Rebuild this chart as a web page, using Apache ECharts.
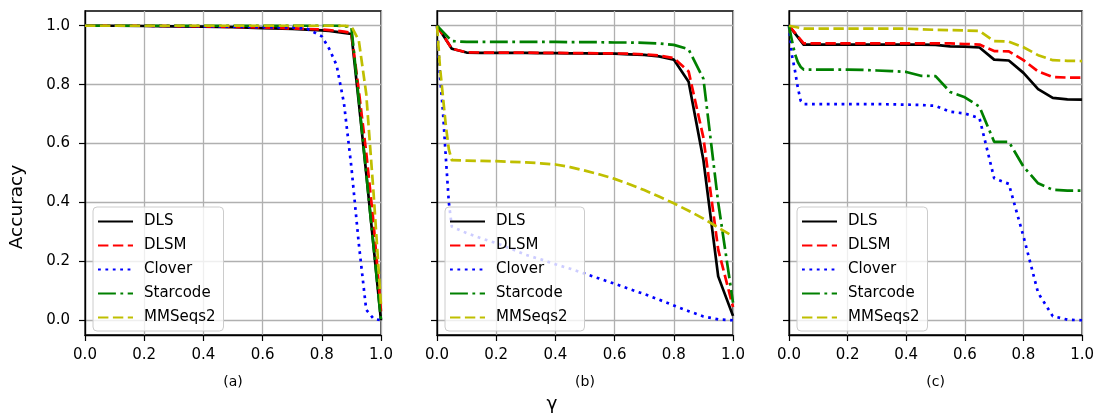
<!DOCTYPE html>
<html>
<head>
<meta charset="utf-8">
<script src="https://cdn.jsdelivr.net/npm/echarts@6/dist/echarts.min.js"></script>
<style>
  html, body { margin: 0; padding: 0; background: #fff; }
  #chart { width: 1097px; height: 415px; }
</style>
</head>
<body>
<div id="chart"></div>
<script>
// ---- data ----
const seriesNames = ['DLS', 'DLSM', 'Clover', 'Starcode', 'MMSeqs2'];
const panelLabels = ['(a)', '(b)', '(c)'];
const yTicks = [0, 0.2, 0.4, 0.6, 0.8, 1.0];

// panel (a)
const gammaA = [0, 0.1, 0.2, 0.3, 0.4, 0.5, 0.6, 0.7, 0.75, 0.8, 0.825, 0.85, 0.875, 0.9, 0.925, 0.95, 0.975, 1.0];
const dlsA      = [1.0, 1.0, 0.999, 0.998, 0.997, 0.995, 0.992, 0.989, 0.987, 0.984, 0.982, 0.979, 0.976, 0.972, 0.74, 0.5, 0.25, 0.0];
const dlsmA     = [1.0, 1.0, 1.0, 0.999, 0.998, 0.996, 0.994, 0.991, 0.989, 0.987, 0.985, 0.983, 0.98, 0.976, 0.78, 0.57, 0.33, 0.03];
const cloverA   = [1.0, 1.0, 1.0, 0.999, 0.998, 0.997, 0.995, 0.994, 0.99, 0.964, 0.922, 0.866, 0.736, 0.52, 0.26, 0.036, 0.005, 0.0];
const starcodeA = [1.0, 1.0, 1.0, 1.0, 1.0, 1.0, 1.0, 1.0, 1.0, 1.0, 1.0, 1.0, 0.999, 0.995, 0.75, 0.5, 0.25, 0.0];
const mmseqsA   = [1.0, 1.0, 1.0, 1.0, 1.0, 1.0, 1.0, 1.0, 1.0, 1.0, 1.0, 1.0, 1.0, 0.998, 0.95, 0.77, 0.43, 0.05];

// panel (b)
const gammaB = [0, 0.05, 0.1, 0.15, 0.2, 0.25, 0.3, 0.35, 0.4, 0.45, 0.5, 0.55, 0.6, 0.65, 0.7, 0.75, 0.8, 0.85, 0.9, 0.95, 1.0];
const gammaBFine = [0, 0.01, 0.02, 0.03, 0.04, 0.05, 0.1, 0.15, 0.2, 0.25, 0.3, 0.35, 0.4, 0.45, 0.5, 0.55, 0.6, 0.65, 0.7, 0.75, 0.8, 0.85, 0.9, 0.95, 1.0];
const dlsB      = [1.0, 0.922, 0.909, 0.908, 0.908, 0.908, 0.908, 0.907, 0.907, 0.906, 0.906, 0.905, 0.905, 0.903, 0.901, 0.896, 0.885, 0.81, 0.544, 0.149, 0.015];
const dlsmB     = [1.0, 0.922, 0.91, 0.909, 0.909, 0.909, 0.909, 0.908, 0.908, 0.907, 0.907, 0.906, 0.906, 0.905, 0.903, 0.899, 0.89, 0.845, 0.62, 0.24, 0.045];
const starcodeB = [1.0, 0.948, 0.945, 0.945, 0.945, 0.945, 0.945, 0.945, 0.945, 0.944, 0.944, 0.944, 0.943, 0.943, 0.942, 0.94, 0.935, 0.92, 0.82, 0.4, 0.06];
const cloverB   = [1.0, 0.83, 0.71, 0.55, 0.40, 0.318, 0.296, 0.278, 0.262, 0.243, 0.222, 0.207, 0.19, 0.175, 0.158, 0.141, 0.124, 0.106, 0.089, 0.07, 0.05, 0.031, 0.013, 0.003, 0.0];
const mmseqsB   = [1.0, 0.86, 0.76, 0.66, 0.58, 0.544, 0.542, 0.541, 0.54, 0.538, 0.536, 0.533, 0.529, 0.52, 0.508, 0.495, 0.48, 0.462, 0.442, 0.42, 0.397, 0.372, 0.345, 0.315, 0.285];

// panel (c)
const gammaC = [0, 0.05, 0.1, 0.15, 0.2, 0.25, 0.3, 0.35, 0.4, 0.45, 0.5, 0.55, 0.6, 0.65, 0.7, 0.75, 0.8, 0.85, 0.9, 0.95, 1.0];
const gammaCFine = [0, 0.01, 0.02, 0.03, 0.04, 0.05, 0.1, 0.15, 0.2, 0.25, 0.3, 0.35, 0.4, 0.45, 0.5, 0.55, 0.6, 0.65, 0.7, 0.75, 0.8, 0.85, 0.9, 0.95, 1.0];
const dlsC      = [1.0, 0.936, 0.936, 0.936, 0.936, 0.936, 0.936, 0.936, 0.936, 0.936, 0.935, 0.93, 0.929, 0.926, 0.885, 0.882, 0.84, 0.785, 0.755, 0.75, 0.749];
const dlsmC     = [1.0, 0.94, 0.94, 0.94, 0.94, 0.94, 0.94, 0.94, 0.94, 0.94, 0.94, 0.94, 0.938, 0.936, 0.914, 0.913, 0.883, 0.845, 0.826, 0.824, 0.824];
const mmseqsC   = [1.0, 0.99, 0.99, 0.99, 0.99, 0.99, 0.99, 0.99, 0.99, 0.988, 0.986, 0.985, 0.984, 0.982, 0.948, 0.946, 0.927, 0.9, 0.883, 0.881, 0.88];
const starcodeC = [1.0, 0.95, 0.905, 0.877, 0.86, 0.851, 0.851, 0.851, 0.851, 0.85, 0.848, 0.846, 0.843, 0.83, 0.829, 0.775, 0.757, 0.725, 0.606, 0.606, 0.522, 0.465, 0.443, 0.44, 0.44];
const cloverC   = [1.0, 0.90, 0.85, 0.79, 0.745, 0.734, 0.734, 0.734, 0.734, 0.734, 0.734, 0.733, 0.732, 0.731, 0.728, 0.708, 0.702, 0.686, 0.482, 0.463, 0.285, 0.093, 0.014, 0.002, 0.0];

// ---- series layout per panel: [name, gamma, values] ----
const panels = [
  [['DLS', gammaA, dlsA], ['DLSM', gammaA, dlsmA], ['Clover', gammaA, cloverA], ['Starcode', gammaA, starcodeA], ['MMSeqs2', gammaA, mmseqsA]],
  [['DLS', gammaB, dlsB], ['DLSM', gammaB, dlsmB], ['Clover', gammaBFine, cloverB], ['Starcode', gammaB, starcodeB], ['MMSeqs2', gammaBFine, mmseqsB]],
  [['DLS', gammaC, dlsC], ['DLSM', gammaC, dlsmC], ['Clover', gammaCFine, cloverC], ['Starcode', gammaCFine, starcodeC], ['MMSeqs2', gammaC, mmseqsC]]
];

// ---- styles ----
const FONT = '"DejaVu Sans", "Liberation Sans", sans-serif';
const LW = 2.7;
const lineStyles = {
  'DLS':      { color: '#000000', type: 'solid' },
  'DLSM':     { color: '#ff0000', type: [10.4, 4.5] },
  'Clover':   { color: '#0000ff', type: [2.8, 4.6] },
  'Starcode': { color: '#008000', type: [17.9, 4.5, 2.8, 4.5] },
  'MMSeqs2':  { color: '#bfbf00', type: [10.4, 4.5] }
};
const gridLeft = [85, 437, 789];
const legendPadRight = [8, 17, 8];
const gridTop = 11, gridW = 296, gridH = 324;

const grids = [], xAxes = [], yAxes = [], series = [], legends = [];

panels.forEach((panel, i) => {
  grids.push({
    left: gridLeft[i], top: gridTop, width: gridW, height: gridH,
    show: true, borderColor: '#000', borderWidth: 1.3, backgroundColor: 'transparent'
  });
  xAxes.push({
    gridIndex: i, type: 'value', min: 0, max: 1, interval: 0.2,
    name: panelLabels[i], nameLocation: 'middle', nameGap: 40,
    nameTextStyle: { fontFamily: FONT, fontSize: 14, color: '#000' },
    axisLine: { show: true, onZero: false, lineStyle: { color: '#000', width: 1.3 } },
    axisTick: { show: true, length: 6, lineStyle: { color: '#000', width: 1.2 } },
    axisLabel: { fontFamily: FONT, fontSize: 15, color: '#000', margin: 13, formatter: v => v.toFixed(1) },
    splitLine: { show: true, lineStyle: { color: '#b0b0b0', width: 1.3 } }
  });
  yAxes.push({
    gridIndex: i, type: 'value', min: -0.05, max: 1.05,
    axisLine: { show: true, lineStyle: { color: '#000', width: 1.3 } },
    axisTick: { show: true, length: 6, customValues: yTicks, lineStyle: { color: '#000', width: 1.2 } },
    axisLabel: { show: i === 0, customValues: yTicks, fontFamily: FONT, fontSize: 15, color: '#000', margin: 15, formatter: v => v.toFixed(1) },
    splitLine: { show: true, lineStyle: { color: '#b0b0b0', width: 1.3 } }
  });
  panel.forEach(([name, xs, ys]) => {
    const st = lineStyles[name];
    series.push({
      name, type: 'line', xAxisIndex: i, yAxisIndex: i,
      data: xs.map((x, k) => [x, ys[k]]),
      showSymbol: false, symbol: 'none', animation: false, silent: true,
      lineStyle: { color: st.color, width: LW, type: st.type, cap: 'butt', join: 'round' },
      itemStyle: { color: st.color }
    });
  });
  legends.push({
    orient: 'vertical', left: gridLeft[i] + 8, top: 207,
    itemWidth: 35, itemHeight: 14, itemGap: 9,
    padding: [7, legendPadRight[i], 6, 4],
    backgroundColor: 'rgba(255,255,255,0.8)', borderColor: '#cccccc', borderWidth: 1, borderRadius: 4,
    selectedMode: false,
    itemStyle: { opacity: 0, borderWidth: 0 },
    textStyle: { fontFamily: FONT, fontSize: 15, color: '#000', padding: [0, 0, 0, 6] },
    data: seriesNames
  });
});

const chart = echarts.init(document.getElementById('chart'), null, { renderer: 'canvas' });
chart.setOption({
  backgroundColor: '#fff',
  animation: false,
  grid: grids, xAxis: xAxes, yAxis: yAxes, series, legend: legends,
  graphic: [
    { type: 'text', x: 17, y: 207, rotation: Math.PI / 2,
      style: { text: 'Accuracy', font: '18.5px ' + FONT, fill: '#000', align: 'center', verticalAlign: 'middle', textAlign: 'center', textVerticalAlign: 'middle' } },
    { type: 'text', x: 552, y: 404,
      style: { text: 'γ', font: '18.5px ' + FONT, fill: '#000', align: 'center', verticalAlign: 'middle', textAlign: 'center', textVerticalAlign: 'middle' } }
  ]
});
</script>
</body>
</html>
